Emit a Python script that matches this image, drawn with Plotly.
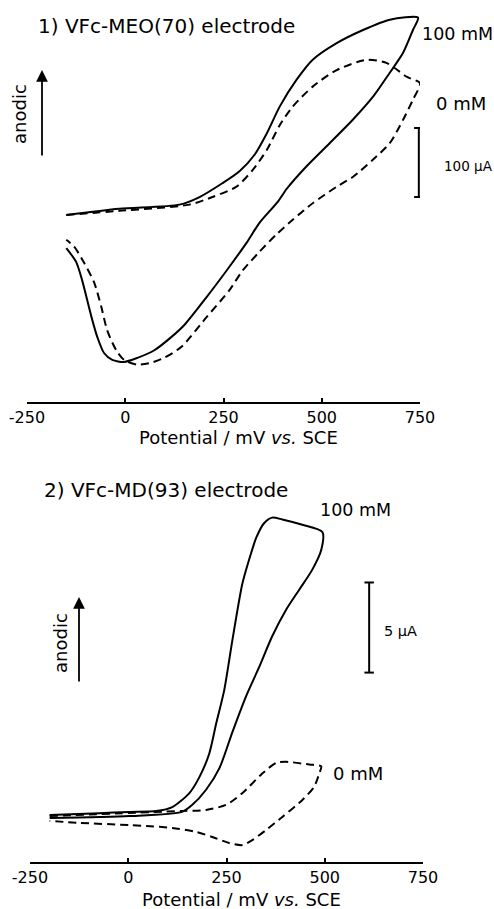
import plotly.graph_objects as go

W, H = 494, 909
FONT = "DejaVu Sans"

# ---------------- Data: panel 1 (VFc-MEO(70)), potential mV, current uA
p1_100_E = [-150, -15, 138, 189, 247, 290, 330, 360, 393, 436, 477, 538, 605, 673, 745,
            732, 707, 673, 630, 579, 520, 462, 411, 388, 342, 309, 265, 207, 151, 117, 74, 31, -3,
            -33, -54, -71, -84, -97, -110, -125, -150]
p1_100_I = [-3, 6, 12, 23, 43, 60, 85, 115, 154, 193, 222, 246, 265, 280, 283,
            265, 232, 203, 168, 135, 101, 68, 35, 16, -14, -43, -78, -122, -162, -180, -199, -210, -216,
            -213, -203, -180, -155, -126, -97, -71, -51]
p1_0_E = [-150, -15, 163, 222, 283, 324, 360, 393, 426, 477, 538, 615, 666, 717, 750,
          732, 707, 673, 630, 579, 538, 477, 426, 385, 342, 298, 265, 207, 143, 99, 66, 31, -3,
          -23, -46, -61, -79, -105, -130, -150]
p1_0_I = [-3, 3, 12, 23, 38, 62, 91, 127, 154, 183, 207, 222, 217, 197, 188,
          164, 135, 101, 77, 52, 38, 14, -10, -31, -56, -84, -112, -151, -194, -210, -217, -220, -213,
          -199, -170, -136, -101, -72, -49, -39]

# ---------------- Data: panel 2 (VFc-MD(93))
p2_100_E = [-200, -74, 3, 71, 112, 155, 181, 206, 224, 244, 265, 290, 308, 326, 346, 366, 392, 443, 494,
            491, 468, 435, 402, 366, 333, 300, 265, 232, 198, 163, 137, 3, -200]
p2_100_I = [0, 0.1, 0.17, 0.22, 0.44, 1.2, 2.1, 3.4, 5.1, 6.9, 9.7, 12.8, 14.2, 15.4, 16.2, 16.5, 16.4, 16.1, 15.7,
            14.7, 13.6, 12.5, 11.4, 9.9, 8.2, 6.6, 4.6, 2.6, 1.4, 0.56, 0.17, -0.06, -0.17]
p2_0_E = [-200, 137, 198, 249, 290, 341, 377, 402, 461, 491,
          486, 473, 443, 392, 351, 316, 290, 257, 214, 173, 112, 46, 3, -125, -200]
p2_0_I = [-0.06, 0.22, 0.28, 0.56, 1.2, 2.3, 2.9, 2.95, 2.8, 2.7,
          2.3, 1.56, 0.83, -0.11, -0.83, -1.39, -1.67, -1.56, -1.22, -0.94, -0.72, -0.61, -0.56, -0.44, -0.33]

x_ticks = [-250, 0, 250, 500, 750]
x_tick_labels = ["-250", "0", "250", "500", "750"]

p1_scale = [23, 123]      # 100 uA scale bar
p1_scale_E = 747
p2_scale = [7.9, 12.9]    # 5 uA scale bar
p2_scale_E = 613


def px(x, y):
    return x / W, 1 - y / H


fig = go.Figure()
line_solid = dict(color="black", width=2, shape="spline", smoothing=0.7)
line_dash = dict(color="black", width=2, dash="8px,5px", shape="spline", smoothing=0.7)

fig.add_trace(go.Scatter(x=p1_100_E, y=p1_100_I, mode="lines", line=line_solid, xaxis="x", yaxis="y", showlegend=False))
fig.add_trace(go.Scatter(x=p1_0_E, y=p1_0_I, mode="lines", line=line_dash, xaxis="x", yaxis="y", showlegend=False))
fig.add_trace(go.Scatter(x=p2_100_E, y=p2_100_I, mode="lines", line=line_solid, xaxis="x2", yaxis="y2", showlegend=False))
fig.add_trace(go.Scatter(x=p2_0_E, y=p2_0_I, mode="lines", line=line_dash, xaxis="x2", yaxis="y2", showlegend=False))

xcommon = dict(range=[-250, 750], tickvals=x_ticks, ticktext=x_tick_labels, showline=True,
               linecolor="black", linewidth=1.5, ticks="inside", ticklen=4, tickwidth=1.5,
               tickcolor="black", showgrid=False, zeroline=False, automargin=False,
               tickfont=dict(family=FONT, size=16, color="black"))
fig.update_layout(
    width=W, height=H, margin=dict(l=0, r=0, t=0, b=0),
    paper_bgcolor="white", plot_bgcolor="white",
    xaxis=dict(domain=[27 / W, 420 / W], anchor="y", **xcommon),
    yaxis=dict(domain=[1 - 402 / H, 1 - 10 / H], range=[-274, 294], visible=False, anchor="x", automargin=False),
    xaxis2=dict(domain=[30 / W, 423 / W], anchor="y2", **xcommon),
    yaxis2=dict(domain=[1 - 862 / H, 1 - 505 / H], range=[-2.61, 17.2], visible=False, anchor="x2", automargin=False),
)

# scale bars
for xa, ya, E, (y0, y1), cap in [("x", "y", p1_scale_E, p1_scale, 12), ("x2", "y2", p2_scale_E, p2_scale, 12)]:
    fig.add_shape(type="line", xref=xa, yref=ya, x0=E, x1=E, y0=y0, y1=y1, line=dict(color="black", width=2))
    for yy in (y0, y1):
        fig.add_shape(type="line", xref=xa, yref=ya, x0=E - cap, x1=E + cap, y0=yy, y1=yy, line=dict(color="black", width=2))

def text(x, y, s, size, xanchor="left", angle=0):
    xx, yy = px(x, y)
    fig.add_annotation(x=xx, y=yy, xref="paper", yref="paper", text=s, showarrow=False,
                       xanchor=xanchor, yanchor="middle", textangle=angle,
                       font=dict(family=FONT, size=size, color="black"))

def arrow(x, ytip, ybase):
    xx, yy = px(x, ytip)
    fig.add_annotation(x=xx, y=yy, xref="paper", yref="paper", text="", showarrow=True,
                       ax=0, ay=ybase - ytip, axref="pixel", ayref="pixel",
                       arrowhead=2, arrowsize=1.3, arrowwidth=1.8, arrowcolor="black")

# panel 1 texts
text(36, 26, "1) VFc-MEO(70) electrode", 20)
text(420, 34, "100 mM", 17.5)
text(434, 103, "0 mM", 18)
text(442, 166, "100 µA", 13.5)
text(20, 114, "anodic", 18, xanchor="center", angle=-90)
arrow(42, 70, 157)
text(238, 437, "Potential / mV <i>vs.</i> SCE", 18, xanchor="center")

# panel 2 texts
text(42, 490, "2) VFc-MD(93) electrode", 20)
text(318, 510, "100 mM", 17.5)
text(331, 773, "0 mM", 18)
text(382, 631, "5 µA", 14.5)
text(60, 643, "anodic", 18, xanchor="center", angle=-90)
arrow(79, 597, 683)
text(241, 899, "Potential / mV <i>vs.</i> SCE", 18, xanchor="center")

fig.write_html("out.html")
